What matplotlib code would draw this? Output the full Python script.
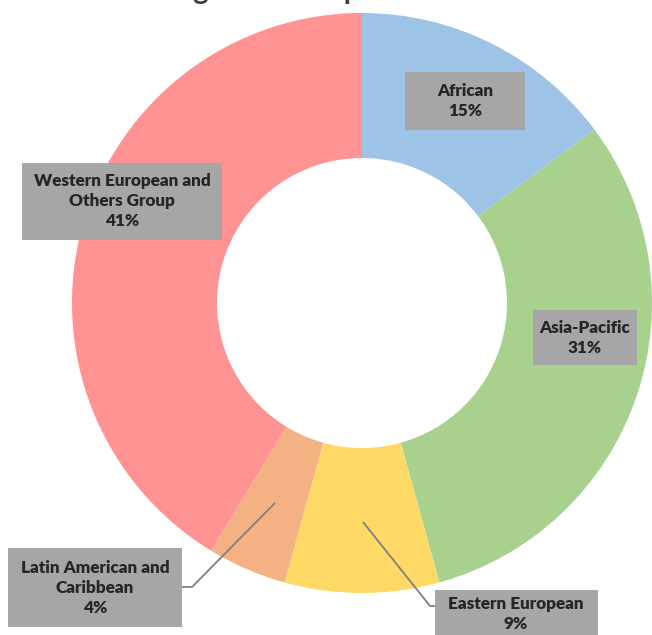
import matplotlib
matplotlib.use("Agg")
import matplotlib.pyplot as plt
from matplotlib.patches import Rectangle

# 数据：各地区组所占比例
GROUPS = ["African", "Asia-Pacific", "Eastern European",
          "Latin American and\nCaribbean", "Western European and\nOthers Group"]
SHARES = [14.8, 30.9, 8.6, 4.4, 41.3]
COLORS = ["#9DC3E6", "#A9D18E", "#FFD966", "#F4B183", "#FF9393"]

W, H = 652, 635
CENTER = (362, H - 303)
RADIUS = 290

# 标签框（像素坐标，y 从上往下）：x0, y0, x1, y1
BOXES = [
    (405, 72, 525, 130),
    (533, 310, 637, 365),
    (435, 590, 598, 660),
    (8, 548, 182, 627),
    (22, 163, 222, 240),
]
TEXT_POS = [(465, 101), (585, 338), (516, 614), (95, 588), (122, 201)]
# 引线（只有两个小扇区有）
LEADERS = {
    2: [(363, 522), (430, 606), (435, 606)],
    3: [(275, 503), (192, 587), (182, 587)],
}


def main():
    fig = plt.figure(figsize=(W / 100, H / 100), dpi=100)
    ax = fig.add_axes([0, 0, 1, 1])

    ax.pie(SHARES, colors=COLORS, startangle=90, counterclock=False,
           center=CENTER, radius=RADIUS,
           wedgeprops=dict(width=RADIUS * 0.5, linewidth=0))

    for i, (name, val) in enumerate(zip(GROUPS, SHARES)):
        if i in LEADERS:
            pts = LEADERS[i]
            ax.plot([p[0] for p in pts], [H - p[1] for p in pts],
                    color="#7F7F7F", lw=1.3, solid_capstyle="butt", zorder=3)
        x0, y0, x1, y1 = BOXES[i]
        ax.add_patch(Rectangle((x0, H - y1), x1 - x0, y1 - y0,
                               facecolor="#A6A6A6", edgecolor="none", zorder=4))
        tx, ty = TEXT_POS[i]
        ax.text(tx, H - ty, f"{name}\n{round(val)}%", ha="center", va="center",
                fontsize=12.3, fontweight="heavy", family=["Lato", "DejaVu Sans"],
                color="#262626", linespacing=1.28, zorder=5)

    ax.set_xlim(0, W)
    ax.set_ylim(0, H)
    ax.set_aspect("equal")
    ax.axis("off")

    # 标题被裁掉，只露出下伸部分
    fig.text(0.47, 1 + 1.0 / H, "Regional Groups Share", ha="center", va="baseline",
             fontsize=21, fontweight="bold", family=["Lato", "DejaVu Sans"],
             color="#404040")

    fig.savefig("out.png", dpi=100)
    plt.close(fig)


if __name__ == "__main__":
    main()
